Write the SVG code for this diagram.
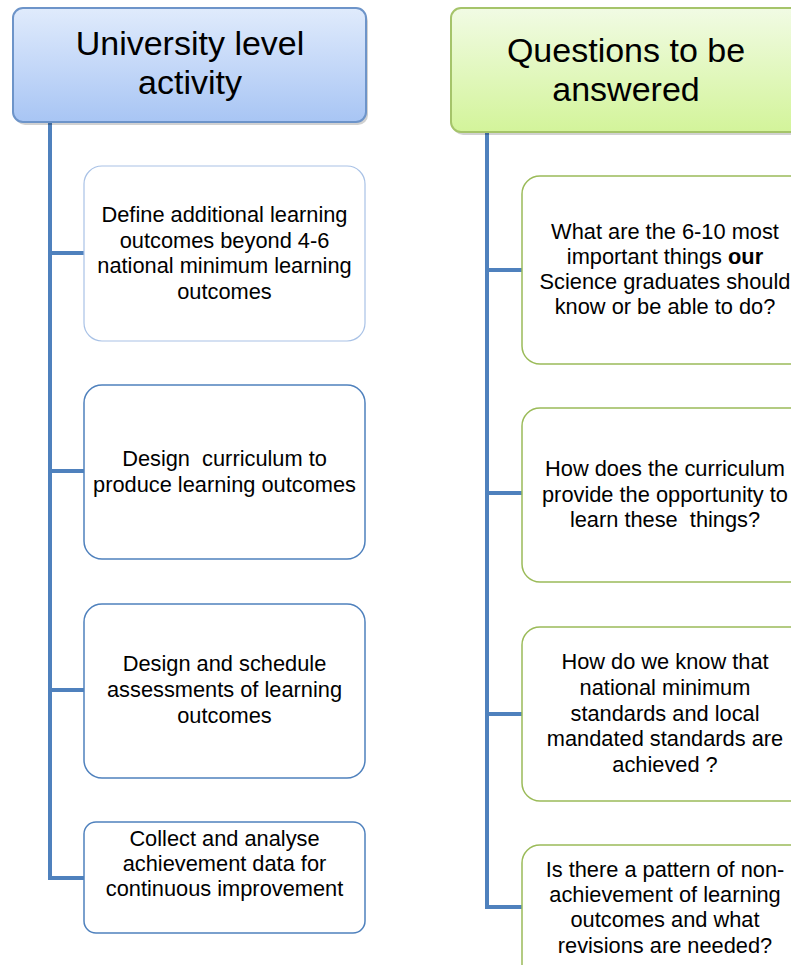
<svg xmlns="http://www.w3.org/2000/svg" width="791" height="965" viewBox="0 0 791 965">
<defs>
<linearGradient id="gBlue" x1="0" y1="0" x2="0" y2="1">
<stop offset="0" stop-color="#e0ebfc"/>
<stop offset="1" stop-color="#a8c5f4"/>
</linearGradient>
<linearGradient id="gGreen" x1="0" y1="0" x2="0" y2="1">
<stop offset="0" stop-color="#f1fbe4"/>
<stop offset="1" stop-color="#d3f49a"/>
</linearGradient>
</defs>
<style>
text{font-family:"Liberation Sans",Arial,sans-serif;fill:#000;text-anchor:middle;white-space:pre}
.h{font-size:34px}
.b{font-size:21.8px}
.shadow{fill:#000;opacity:0.18}
.bl{fill:#fff;stroke:#4f81bd;stroke-width:1.5}
.gr{fill:#fff;stroke:#9bbb59;stroke-width:1.5}
.conn{fill:none;stroke:#4f81bd;stroke-width:4}
</style>
<g id="connectors">
<path class="conn" d="M50 122 V878 H84 M50 253 H84 M50 471 H84 M50 690 H84"/>
<path class="conn" d="M487 132 V907 H522 M487 270 H522 M487 493 H522 M487 714 H522"/>
</g>
<g id="header-left">
<rect class="shadow" x="15" y="11" width="353" height="114" rx="10"/>
<rect x="13" y="8" width="353" height="114" rx="10" fill="url(#gBlue)" stroke="#6d94c9" stroke-width="2"/>
<text class="h" x="190" y="55">University level</text>
<text class="h" x="190" y="94">activity</text>
</g>
<g id="header-right">
<rect class="shadow" x="453" y="11" width="360" height="124" rx="10"/>
<rect x="451" y="8" width="360" height="124" rx="10" fill="url(#gGreen)" stroke="#a5c46a" stroke-width="2"/>
<text class="h" x="626" y="62">Questions to be</text>
<text class="h" x="626" y="101">answered</text>
</g>
<g id="left-1">
<rect x="84" y="166" width="281" height="175" rx="18" fill="#fff" stroke="#a9c2e6" stroke-width="1.2"/>
<text class="b" x="224.5" y="222">Define additional learning</text>
<text class="b" x="224.5" y="248">outcomes beyond 4-6</text>
<text class="b" x="224.5" y="273">national minimum learning</text>
<text class="b" x="224.5" y="299">outcomes</text>
</g>
<g id="left-2">
<rect class="bl" x="84" y="385" width="281" height="174" rx="18"/>
<text class="b" x="224.5" y="466" xml:space="preserve">Design  curriculum to</text>
<text class="b" x="224.5" y="492">produce learning outcomes</text>
</g>
<g id="left-3">
<rect class="bl" x="84" y="604" width="281" height="174" rx="18"/>
<text class="b" x="224.5" y="671">Design and schedule</text>
<text class="b" x="224.5" y="697">assessments of learning</text>
<text class="b" x="224.5" y="723">outcomes</text>
</g>
<g id="left-4">
<rect class="bl" x="84" y="822" width="281" height="111" rx="12"/>
<text class="b" x="224.5" y="846">Collect and analyse</text>
<text class="b" x="224.5" y="871">achievement data for</text>
<text class="b" x="224.5" y="896">continuous improvement</text>
</g>
<g id="right-1">
<rect class="gr" x="522" y="176" width="286" height="188" rx="18"/>
<text class="b" x="665" y="239">What are the 6-10 most</text>
<text class="b" x="665" y="264">important things <tspan font-weight="bold">our</tspan></text>
<text class="b" x="665" y="289">Science graduates should</text>
<text class="b" x="665" y="314">know or be able to do?</text>
</g>
<g id="right-2">
<rect class="gr" x="522" y="408" width="286" height="174" rx="18"/>
<text class="b" x="665" y="476">How does the curriculum</text>
<text class="b" x="665" y="502">provide the opportunity to</text>
<text class="b" x="665" y="527" xml:space="preserve">learn these  things?</text>
</g>
<g id="right-3">
<rect class="gr" x="522" y="627" width="286" height="174" rx="18"/>
<text class="b" x="665" y="669">How do we know that</text>
<text class="b" x="665" y="695">national minimum</text>
<text class="b" x="665" y="721">standards and local</text>
<text class="b" x="665" y="746">mandated standards are</text>
<text class="b" x="665" y="772">achieved ?</text>
</g>
<g id="right-4">
<rect class="gr" x="522" y="845" width="286" height="175" rx="18"/>
<text class="b" x="665" y="877">Is there a pattern of non-</text>
<text class="b" x="665" y="902">achievement of learning</text>
<text class="b" x="665" y="927">outcomes and what</text>
<text class="b" x="665" y="953">revisions are needed?</text>
</g>
</svg>
